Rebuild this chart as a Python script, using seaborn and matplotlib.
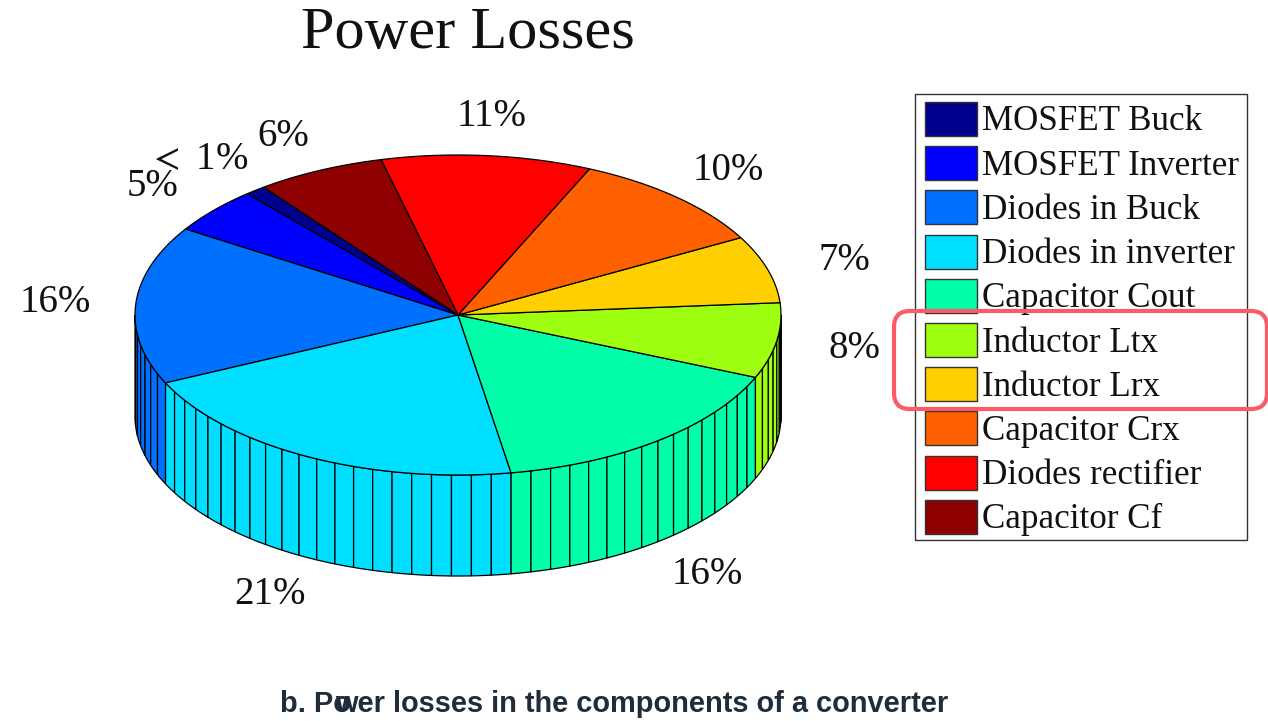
import numpy as np
import matplotlib
matplotlib.use("Agg")
import matplotlib.pyplot as plt
import seaborn as sns
from matplotlib.patches import FancyBboxPatch, Rectangle

# Datos
components = ["MOSFET Buck", "MOSFET Inverter", "Diodes in Buck", "Diodes in inverter",
              "Capacitor Cout", "Inductor Ltx", "Inductor Lrx", "Capacitor Crx",
              "Diodes rectifier", "Capacitor Cf"]
losses = [1.05, 4.65, 16.0, 20.65, 16.0, 7.6, 6.8, 10.3, 10.5, 6.45]
loss_labels = ["$<$ 1%", "5%", "16%", "21%", "16%", "8%", "7%", "10%", "11%", "6%"]
colors = ["#00008F", "#0000FF", "#0070FF", "#00DFFF", "#00FFA8",
          "#9FFF10", "#FFCF00", "#FF6000", "#FF0000", "#8F0000"]

# Geometria en pixeles
CX, CY, RX, RY, DEPTH = 458, 315, 323, 160, 101
START_ANGLE = 127
FACET_DEG = 3.6
label_pos = [(198, 160), (153, 187), (55, 303), (270, 595), (707, 574),
             (855, 349), (844, 261), (728, 171), (492, 116), (283, 137)]

sns.set_theme(style="white")
plt.rcParams["font.family"] = ["Liberation Serif", "DejaVu Serif"]
plt.rcParams["mathtext.fontset"] = "stix"
palette = sns.color_palette(colors)


def rim(t_deg, drop=0):
    t = np.radians(t_deg)
    return CX + RX * np.cos(t), CY - RY * np.sin(t) + drop


fig, ax = plt.subplots(figsize=(12.68, 7.21), dpi=100)
ax.set_position([0, 0, 1, 1])
ax.set_xlim(0, 1268)
ax.set_ylim(721, 0)
ax.axis("off")

edges = START_ANGLE + np.concatenate([[0], np.cumsum(losses)]) * 360 / sum(losses)

# Cara lateral, solo la mitad visible
for i, color in enumerate(palette):
    n = max(1, int(round((edges[i + 1] - edges[i]) / FACET_DEG)))
    steps = np.linspace(edges[i], edges[i + 1], n + 1)
    for a, b in zip(steps[:-1], steps[1:]):
        for shift in (0, 360):
            lo, hi = max(a - shift, 180), min(b - shift, 360)
            if hi <= lo:
                continue
            arc = np.linspace(lo, hi, 6)
            xs, ys = rim(arc)
            xb, yb = rim(arc[::-1], DEPTH)
            ax.fill(np.r_[xs, xb], np.r_[ys, yb], facecolor=color,
                    edgecolor="black", linewidth=0.9, zorder=2)

# Cara superior
for i, color in enumerate(palette):
    arc = np.linspace(edges[i], edges[i + 1], 80)
    xs, ys = rim(arc)
    ax.fill(np.r_[CX, xs], np.r_[CY, ys], facecolor=color,
            edgecolor="black", linewidth=0.9, zorder=3)

for label, (x, y) in zip(loss_labels, label_pos):
    ax.text(x, y, label, fontsize=28, ha="center", va="center", color="#111111", zorder=5)

ax.text(468, 34, "Power Losses", fontsize=43.5, ha="center", va="center", color="#111111")

# Leyenda
ax.add_patch(Rectangle((915, 94), 332, 446, facecolor="white", edgecolor="#333333",
                       linewidth=1.0, zorder=1))
for i, (name, color) in enumerate(zip(components, palette)):
    top = 102 + i * 44.2
    ax.add_patch(Rectangle((925, top), 52, 34, facecolor=color, edgecolor="#333333",
                           linewidth=1.0, zorder=2))
    ax.text(982, top + 20, name, fontsize=25.2, ha="left", va="center", color="#111111", zorder=3)

# Marca roja
ax.add_patch(FancyBboxPatch((906, 323), 349, 74, boxstyle="round,pad=12,rounding_size=16",
                            facecolor="none", edgecolor="#FB5A66", linewidth=3, zorder=6))

# Pie de figura: la w queda encima de la o en el original
caption_font = dict(family="Liberation Sans", fontweight="bold", fontsize=20.9, color="#1F2D3A",
                    va="center", ha="left")
ax.text(280, 704, "b. Po", **caption_font)
ax.text(335, 704, "wer losses in the components of a converter", **caption_font)

fig.savefig("out.png", dpi=100)
